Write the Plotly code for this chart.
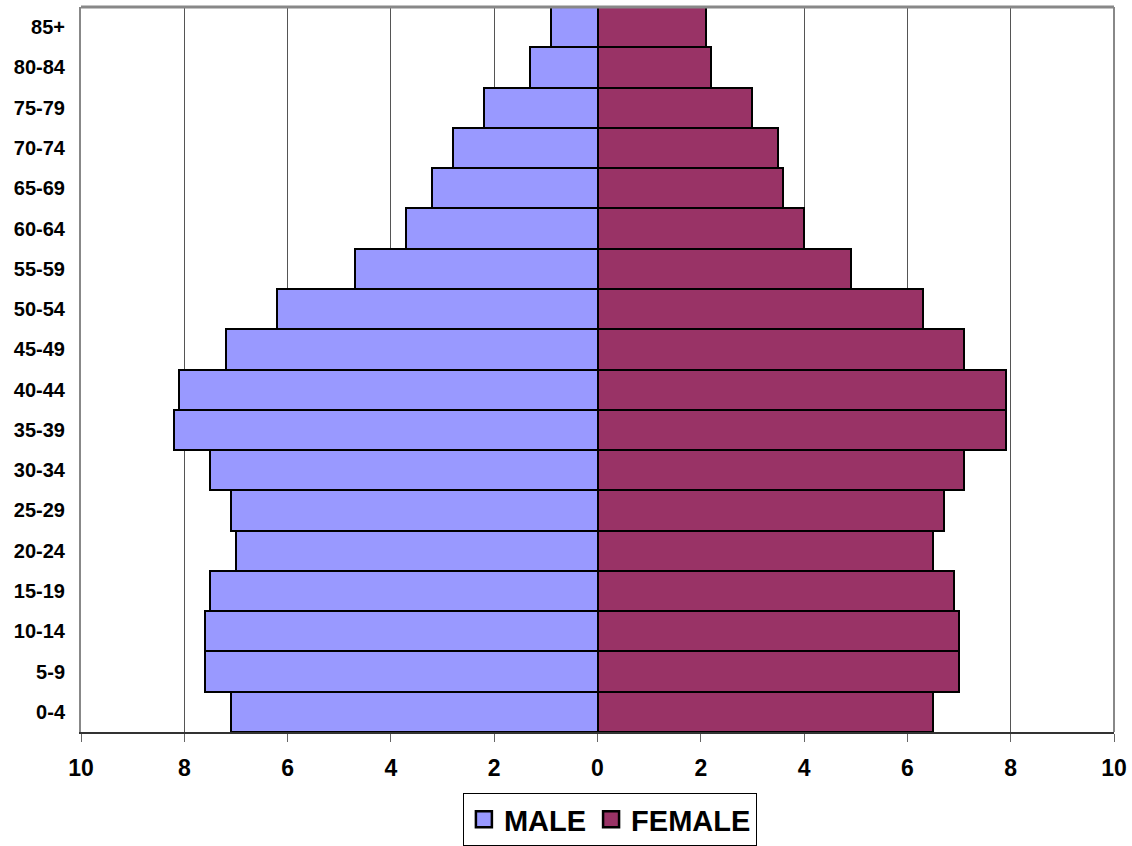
import plotly.graph_objects as go

age_groups = ["0-4", "5-9", "10-14", "15-19", "20-24", "25-29", "30-34", "35-39",
              "40-44", "45-49", "50-54", "55-59", "60-64", "65-69", "70-74",
              "75-79", "80-84", "85+"]
male = [7.1, 7.6, 7.6, 7.5, 7.0, 7.1, 7.5, 8.2, 8.1, 7.2, 6.2, 4.7, 3.7, 3.2, 2.8, 2.2, 1.3, 0.9]
female = [6.5, 7.0, 7.0, 6.9, 6.5, 6.7, 7.1, 7.9, 7.9, 7.1, 6.3, 4.9, 4.0, 3.6, 3.5, 3.0, 2.2, 2.1]
tick_values = [-10, -8, -6, -4, -2, 0, 2, 4, 6, 8, 10]
tick_labels = ["10", "8", "6", "4", "2", "0", "2", "4", "6", "8", "10"]

MALE_COLOR = "#9999FF"
FEMALE_COLOR = "#993366"

fig = go.Figure()
fig.add_trace(go.Bar(
    y=age_groups, x=[-v for v in male], orientation="h", name="MALE",
    marker=dict(color=MALE_COLOR, line=dict(color="black", width=2)),
    showlegend=False,
))
fig.add_trace(go.Bar(
    y=age_groups, x=female, orientation="h", name="FEMALE",
    marker=dict(color=FEMALE_COLOR, line=dict(color="black", width=2)),
    showlegend=False,
))
# legend entries with larger square swatches
for name, color in [("MALE", MALE_COLOR), ("FEMALE", FEMALE_COLOR)]:
    fig.add_trace(go.Scatter(
        x=[None], y=[None], mode="markers", name=name,
        marker=dict(symbol="square", size=16, color=color,
                    line=dict(color="black", width=2.5)),
        showlegend=True, hoverinfo="skip",
    ))

fig.update_layout(
    width=1132, height=846,
    margin=dict(l=81, r=18, t=7, b=114, autoexpand=False),
    barmode="relative", bargap=0,
    plot_bgcolor="white", paper_bgcolor="white",
    font=dict(family="Liberation Sans, Arial", color="black"),
    showlegend=True,
    legend=dict(
        orientation="h", x=0.512, xanchor="center", y=-0.084, yanchor="top",
        font=dict(size=29, family="Liberation Sans, Arial", weight="bold"),
        bordercolor="black", borderwidth=1, bgcolor="white",
        itemsizing="trace", traceorder="normal", itemwidth=30,
    ),
    xaxis=dict(
        range=[-10, 10], tickvals=tick_values, ticktext=tick_labels,
        showgrid=True, gridcolor="#555555", gridwidth=1,
        zeroline=False,
        showline=True, linecolor="#333333", linewidth=2,
        ticks="outside", ticklen=8, tickcolor="#666666", tickwidth=1,
        ticklabelstandoff=6,
        tickfont=dict(size=23, family="Liberation Sans, Arial", weight="bold"),
        fixedrange=True,
    ),
    yaxis=dict(
        categoryorder="array", categoryarray=age_groups,
        showgrid=False, showline=True, linecolor="#888888", linewidth=2,
        ticks="", ticklabelstandoff=10,
        tickfont=dict(size=20, family="Liberation Sans, Arial", weight="bold"),
        fixedrange=True,
    ),
    shapes=[
        dict(type="line", xref="paper", yref="paper", x0=0, x1=1, y0=1, y1=1,
             line=dict(color="#888888", width=3)),
        dict(type="line", xref="paper", yref="paper", x0=1, x1=1, y0=0, y1=1,
             line=dict(color="#888888", width=2)),
    ],
)

fig.write_html("out.html", config={"displayModeBar": False},
               post_script="document.body.style.margin='0';document.body.style.overflow='hidden';")
